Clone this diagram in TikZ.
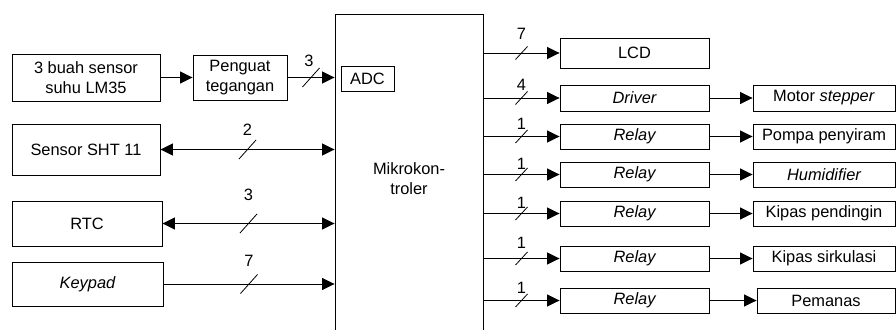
\documentclass[tikz,border=0pt]{standalone}
\usepackage{fontspec}
\setmainfont{Liberation Sans}
\usetikzlibrary{arrows.meta,calc}

\begin{document}
\begin{tikzpicture}[
  x=1pt, y=-1pt,
  font=\fontsize{16.4}{20}\selectfont,
  blok/.style 2 args={draw, line width=0.9pt, inner sep=0pt, align=center,
                      minimum width=#1, minimum height=#2},
  link/.style={draw, line width=0.9pt, -{Triangle[length=12.5pt,width=12pt]}},
  duplex/.style={draw, line width=0.9pt,
                 {Triangle[length=12.5pt,width=12pt]}-{Triangle[length=12.5pt,width=12pt]}},
  tick/.style={draw, line width=0.8pt},
  nlbl/.style={inner sep=0pt},
]
  \useasboundingbox (0,0) rectangle (896,329);

  % Central controller, running past the bottom edge.
  \node[blok={148pt}{330pt}] (mcu) at (409,179) {Mikrokon-\\troler};
  \node[blok={53pt}{25pt}] (adc) at (367.5,78.5) {ADC};

  % Inputs on the left.
  \node[blok={148pt}{47pt}] (lm35) at (86,77.5) {3 buah sensor\\suhu LM35};
  \node[blok={94pt}{45pt}]  (peng) at (240,77.5) {Penguat\\tegangan};
  \node[blok={148pt}{51pt}] (sht)  at (86,149.5) {Sensor SHT 11};
  \node[blok={150pt}{45pt}] (rtc)  at (87,223.5) {RTC};
  \node[blok={151pt}{44pt}] (keyp) at (87.5,284) {\itshape Keypad};

  \draw[link] (lm35) -- (peng);

  \draw[link] (peng.east) -- (peng.east -| mcu.west) coordinate[midway] (m);
  \draw[tick] ($(m)+(-8.5,9.5)$) -- ($(m)+(8.5,-9.5)$);
  \node[nlbl] at ($(m)+(-2,-17)$) {3};

  \foreach \src/\n/\dy/\sty in {sht/2/20/duplex, rtc/3/29/duplex, keyp/7/23/link}
  {
    \draw[\sty] (\src.east) -- (\src.east -| mcu.west) coordinate[midway] (m);
    \draw[tick] ($(m)+(-8.5,9.5)$) -- ($(m)+(8.5,-9.5)$);
    \node[nlbl] at ($(m)+(0,-\dy)$) {\n};
  }

  % Outputs on the right: drivers first, then the loads.
  \node[blok={149pt}{30pt}] (lcd) at (634.5,53) {LCD};
  \node[blok={149pt}{26pt}] (drv) at (634.5,98) {\itshape Driver};
  \foreach \i/\yy in {1/136.5,2/174.5,3/213.5,4/258.5,5/300.5}
    \node[blok={149pt}{25pt}] (rly\i) at (634.5,\yy) {\itshape Relay};

  \node[blok={142pt}{26pt}] (motor)  at (824,98)    {Motor \textit{stepper}};
  \node[blok={142pt}{25pt}] (pompa)  at (824,136.5) {Pompa penyiram};
  \node[blok={142pt}{25pt}] (humid)  at (824,174.5) {\itshape Humidifier};
  \node[blok={142pt}{25pt}] (kipasd) at (824,213.5) {Kipas pendingin};
  \node[blok={142pt}{25pt}] (kipass) at (824,258.5) {Kipas sirkulasi};
  \node[blok={138pt}{25pt}] (panas)  at (826,300.5) {Pemanas};

  \foreach \src/\n/\dy in {lcd/7/19, drv/4/13, rly1/1/13, rly2/1/11,
                           rly3/1/11, rly4/1/16, rly5/1/13}
  {
    \draw[link] (\src.west -| mcu.east) -- (\src.west) coordinate[midway] (m);
    \draw[tick] ($(m)+(-6,6.5)$) -- ($(m)+(6,-6.5)$);
    \node[nlbl] at ($(m)+(0,-\dy)$) {\n};
  }

  \foreach \a/\b in {drv/motor, rly1/pompa, rly2/humid, rly3/kipasd,
                     rly4/kipass, rly5/panas}
    \draw[link] (\a) -- (\b);
\end{tikzpicture}
\end{document}
